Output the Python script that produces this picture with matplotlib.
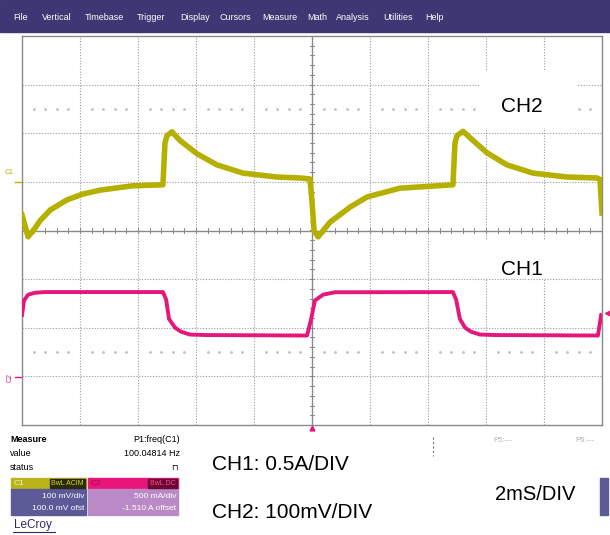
import matplotlib
matplotlib.use("Agg")
import matplotlib.pyplot as plt
from matplotlib.patches import Rectangle
import numpy as np

plt.rcParams['font.family'] = ['Liberation Sans', 'DejaVu Sans']

# CH2 (yellow) voltage in mV, time in ms
ch2_t = [0.00, 0.21, 0.45, 0.62, 0.97, 1.55, 2.10, 2.69, 3.83, 4.86, 4.93, 5.00, 5.17,
         5.45, 6.03, 6.72, 7.62, 8.79, 9.59, 9.93, 10.00, 10.07, 10.21, 10.62, 11.31,
         11.90, 13.03, 14.86, 14.93, 15.00, 15.21, 15.50, 16.03, 16.72, 17.62, 18.79,
         19.83, 19.93, 20.00]
ch2_mv = [-68, -113, -95, -80, -58, -37, -25, -17, -8, -6, 80, 95, 103,
          85, 58, 35, 18, 10, 8, 6, -40, -100, -113, -83, -52,
          -31, -13, -6, 80, 95, 104, 88, 60, 35, 18, 10,
          8, 5, -64]

# CH1 (magenta) current in A
ch1_t = [0.00, 0.07, 0.21, 0.45, 0.79, 4.86, 4.97, 5.07, 5.28, 5.48, 5.79, 6.31, 9.83,
         9.97, 10.10, 10.38, 10.79, 14.86, 14.97, 15.10, 15.28, 15.48, 15.79, 16.31,
         19.86, 19.97]
ch1_a = [0.64, 0.79, 0.85, 0.87, 0.877, 0.877, 0.80, 0.60, 0.51, 0.47, 0.44, 0.435, 0.43,
         0.60, 0.79, 0.85, 0.875, 0.877, 0.80, 0.60, 0.51, 0.47, 0.44, 0.435,
         0.43, 0.64]

# scope settings
ch2_scale, ch2_offset = 100.0, 100.0   # mV/div, mV
ch1_scale, ch1_offset = 0.5, -1.510    # A/div, A
trig_level = 0.66                      # A
time_div = 2.0                         # ms/div

menu_items = ['File', 'Vertical', 'Timebase', 'Trigger', 'Display', 'Cursors',
              'Measure', 'Math', 'Analysis', 'Utilities', 'Help']
menu_x = [13, 42, 85, 137, 180, 219, 262, 307, 336, 383, 425]

W, H = 610, 535
YEL = '#b5b000'
MAG = '#e5177b'
PURP = '#5d5a98'


def fx(x):
    return x / W


def fy(y):
    return 1 - y / H


fig = plt.figure(figsize=(W / 100, H / 100), dpi=100)
fig.patch.set_facecolor('white')

# menu bar
fig.patches.append(Rectangle((0, fy(32)), 1, 32 / H, transform=fig.transFigure,
                             color='#3d3873', zorder=0))
for name, x in zip(menu_items, menu_x):
    fig.text(fx(x), fy(18), name, color='white', fontsize=6.5, va='center')

# grid area
ax = fig.add_axes([fx(22), fy(425), 580 / W, 389 / H])
ax.set_xlim(0, 10 * time_div)
ax.set_ylim(-4, 4)
ax.set_xticks([])
ax.set_yticks([])
for s in ax.spines.values():
    s.set_color('#8a8a8a')
    s.set_linewidth(1.0)

for i in range(1, 10):
    if i != 5:
        ax.axvline(i * time_div, color='#9a9a9a', lw=0.8, ls=(0, (1, 1.5)), zorder=1)
for j in range(-3, 4):
    if j != 0:
        ax.axhline(j, color='#9a9a9a', lw=0.8, ls=(0, (1, 1.5)), zorder=1)
ax.axvline(5 * time_div, color='#8a8a8a', lw=1.0, zorder=1)
ax.axhline(0, color='#8a8a8a', lw=1.0, zorder=1)

# minor ticks on centre lines
for v in np.arange(-4, 4.01, 0.2):
    ax.plot([10 - 0.08, 10 + 0.08], [v, v], color='#8a8a8a', lw=0.7, zorder=1)
for t in np.arange(0, 20.01, 0.4):
    ax.plot([t, t], [-0.06, 0.06], color='#8a8a8a', lw=0.7, zorder=1)

# dotted rows
dots = [t for t in np.arange(0.4, 20, 0.4) if abs(t / 2 - round(t / 2)) > 0.05]
for lvl in (2.5, -2.5):
    ax.plot(dots, [lvl] * len(dots), ls='none', marker='s', ms=0.9,
            color='#c0c0c0', zorder=1)

# white label boxes
ax.add_patch(Rectangle((0.79, 0.763), 0.167, 0.146, transform=ax.transAxes,
                       facecolor='white', edgecolor='none', zorder=2))
ax.add_patch(Rectangle((0.79, 0.378), 0.167, 0.098, transform=ax.transAxes,
                       facecolor='white', edgecolor='none', zorder=2))
ax.text(0.861, 0.818, 'CH2', transform=ax.transAxes, fontsize=15,
        ha='center', va='center', zorder=3)
ax.text(0.861, 0.399, 'CH1', transform=ax.transAxes, fontsize=15,
        ha='center', va='center', zorder=3)

# channel axes
ax2 = ax.twinx()
ax2.set_ylim(-4 * ch2_scale - ch2_offset, 4 * ch2_scale - ch2_offset)
ax3 = ax.twinx()
ax3.set_ylim(-4 * ch1_scale - ch1_offset, 4 * ch1_scale - ch1_offset)
for a in (ax2, ax3):
    a.set_yticks([])
    for s in a.spines.values():
        s.set_visible(False)

ax2.plot(ch2_t, ch2_mv, color=YEL, lw=4.0, solid_joinstyle='round', zorder=5)
ax3.plot(ch1_t, ch1_a, color=MAG, lw=2.8, solid_joinstyle='round', zorder=5)

# markers
ax3.plot([20.2], [trig_level], marker='<', color=MAG, ms=5, clip_on=False)
ax.plot([10], [-4.06], marker='^', color=MAG, ms=3.5, clip_on=False)
ax2.plot([-0.25, -0.02], [0, 0], color=YEL, lw=1.0, clip_on=False)
ax2.text(-0.3, 12, 'C1', color=YEL, fontsize=5, ha='right', va='bottom')
ax3.plot([-0.25, -0.02], [0, 0], color=MAG, lw=1.0, clip_on=False)
ax3.text(-0.42, 0, 'C2', color=MAG, fontsize=5, ha='center', va='center', rotation=90)

# measure panel
fig.text(fx(10), fy(440), 'Measure', fontsize=6.5, weight='bold', va='center')
fig.text(fx(180), fy(440), 'P1:freq(C1)', fontsize=6.5, ha='right', va='center')
fig.text(fx(10), fy(454), 'value', fontsize=6.5, va='center')
fig.text(fx(180), fy(454), '100.04814 Hz', fontsize=6.5, ha='right', va='center')
fig.text(fx(10), fy(467), 'status', fontsize=6.5, va='center')
fig.text(fx(178), fy(467), '\u2293', fontsize=6, ha='right', va='center',
         family='DejaVu Sans')
fig.text(fx(493), fy(441), 'P5:---', fontsize=5.5, color='#b0b0b0', va='center')
fig.text(fx(575), fy(441), 'P6:---', fontsize=5.5, color='#b0b0b0', va='center')
fig.lines.append(plt.Line2D([fx(433), fx(433)], [fy(437), fy(456)], color='#707070',
                            lw=0.8, ls=(0, (2, 2)), transform=fig.transFigure))


def box(x0, y0, x1, y1, color):
    fig.patches.append(Rectangle((fx(x0), fy(y1)), (x1 - x0) / W, (y1 - y0) / H,
                                 transform=fig.transFigure, color=color, zorder=1))


# C1 badge
box(11, 478, 86, 489, '#b8b41a')
box(11, 489, 86, 515, PURP)
box(50, 479, 85, 488, '#2b2a10')
fig.text(fx(14), fy(483.5), 'C1', fontsize=6, color='#f4f2c8', va='center')
fig.text(fx(84), fy(483.5), 'BwL ACIM', fontsize=5, color='#d8d430', ha='right', va='center')
fig.text(fx(84), fy(497), '100 mV/div', fontsize=6, color='white', ha='right', va='center')
fig.text(fx(84), fy(508), '100.0 mV ofst', fontsize=6, color='white', ha='right', va='center')

# C2 badge
box(88, 478, 178, 489, '#e8157a')
box(88, 489, 178, 515, '#b98ac6')
box(148, 479, 177, 488, '#6a0a30')
fig.text(fx(91), fy(483.5), 'C2', fontsize=6, color='#b0005a', va='center')
fig.text(fx(176), fy(483.5), 'BwL DC', fontsize=5, color='#ff4a9a', ha='right', va='center')
fig.text(fx(176), fy(497), '500 mA/div', fontsize=6, color='white', ha='right', va='center')
fig.text(fx(176), fy(508), '-1.510 A offset', fontsize=6, color='white', ha='right', va='center')

box(600, 478, 608, 515, PURP)

fig.text(fx(14), fy(525), 'LeCroy', fontsize=8.5, color='#2c2c6c', va='center')
fig.lines.append(plt.Line2D([fx(13), fx(55)], [fy(532), fy(532)], color='#2c2c6c',
                            lw=0.8, transform=fig.transFigure))

# annotations
fig.text(fx(212), fy(465), 'CH1: 0.5A/DIV', fontsize=15, va='center')
fig.text(fx(212), fy(513), 'CH2: 100mV/DIV', fontsize=15, va='center')
fig.text(fx(495), fy(495), '2mS/DIV', fontsize=14.5, va='center')

fig.savefig('out.png', dpi=100)
